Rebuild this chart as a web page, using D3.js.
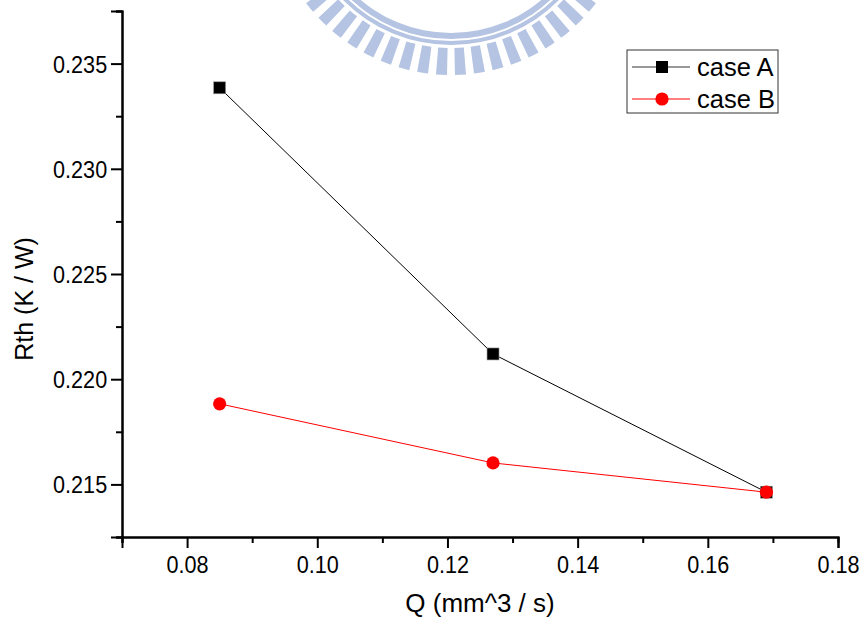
<!DOCTYPE html>
<html>
<head>
<meta charset="utf-8">
<script src="https://cdn.jsdelivr.net/npm/d3@7"></script>
<style>
  html, body { margin: 0; padding: 0; background: #fff; }
  svg { display: block; font-family: "Liberation Sans", Arial, sans-serif; }
</style>
</head>
<body>
<script>
// Flow rate Q (mm^3/s) and thermal resistance Rth (K/W)
const flowRates = [0.085, 0.127, 0.169];
const rthCaseA = [0.23385, 0.2212, 0.21463];
const rthCaseB = [0.21883, 0.21602, 0.21463];
const seriesNames = ["case A", "case B"];

const xMajorTicks = [0.08, 0.10, 0.12, 0.14, 0.16, 0.18];
const xMinorTicks = [0.07, 0.09, 0.11, 0.13, 0.15, 0.17];
const yMajorTicks = [0.215, 0.220, 0.225, 0.230, 0.235];
const yMinorTicks = [0.2125, 0.2175, 0.2225, 0.2275, 0.2325, 0.2375];

const W = 863, H = 622;
const svg = d3.select("body").append("svg").attr("width", W).attr("height", H);

// Background emblem: ring with radial teeth, in pale blue
const emblem = svg.append("g").attr("transform", "translate(451,-107)");
const pale = "rgb(180,196,226)";
emblem.append("path")
  .attr("d", d3.arc()({ innerRadius: 140, outerRadius: 146, startAngle: 0, endAngle: 2 * Math.PI }))
  .attr("fill", pale);
emblem.append("path")
  .attr("d", d3.arc()({ innerRadius: 148, outerRadius: 152, startAngle: 0, endAngle: 2 * Math.PI }))
  .attr("fill", pale);
const toothCount = 60;
const toothArc = d3.arc().innerRadius(155).outerRadius(182);
emblem.selectAll("path.tooth")
  .data(d3.range(toothCount))
  .join("path")
  .attr("class", "tooth")
  .attr("d", i => {
    const a = (i + 0.5) * 2 * Math.PI / toothCount;
    const half = Math.PI / toothCount * 0.58;
    return toothArc({ startAngle: a - half, endAngle: a + half });
  })
  .attr("fill", pale);

// Scales
const x = d3.scaleLinear().domain([0.07, 0.18]).range([122, 838]);
const y = d3.scaleLinear().domain([0.2125, 0.2375]).range([537, 11]);

const axisStroke = 2;
const tickFont = 24;

// X axis
const gx = svg.append("g").attr("transform", `translate(0,${y(0.2125)})`);
gx.call(d3.axisBottom(x).tickValues(xMajorTicks).tickSize(11).tickFormat(d3.format(".2f")));
const gxMinor = svg.append("g").attr("transform", `translate(0,${y(0.2125)})`);
gxMinor.call(d3.axisBottom(x).tickValues(xMinorTicks).tickSize(6).tickFormat(""));

// Y axis
const gy = svg.append("g").attr("transform", `translate(${x(0.07)},0)`);
gy.call(d3.axisLeft(y).tickValues(yMajorTicks).tickSize(11).tickFormat(d3.format(".3f")));
const gyMinor = svg.append("g").attr("transform", `translate(${x(0.07)},0)`);
gyMinor.call(d3.axisLeft(y).tickValues(yMinorTicks).tickSize(6).tickFormat(""));

[gx, gxMinor, gy, gyMinor].forEach(g => {
  g.select(".domain").attr("stroke", "#000").attr("stroke-width", axisStroke);
  g.selectAll(".tick line").attr("stroke", "#000").attr("stroke-width", axisStroke);
});
// Tick labels in a slightly narrowed face
gx.selectAll(".tick text")
  .attr("font-size", tickFont).attr("fill", "#000")
  .attr("font-family", "Liberation Sans, Arial, sans-serif")
  .attr("y", 28).attr("dy", "0.35em")
  .attr("transform", "scale(0.9,1)");
gy.selectAll(".tick text")
  .attr("font-size", tickFont).attr("fill", "#000")
  .attr("font-family", "Liberation Sans, Arial, sans-serif")
  .attr("x", -16.5).attr("dy", "0.35em")
  .attr("transform", "scale(0.9,1)");

// Axis titles
svg.append("text")
  .attr("x", 480).attr("y", 612)
  .attr("text-anchor", "middle")
  .attr("font-size", 26)
  .text("Q (mm^3 / s)");
svg.append("text")
  .attr("transform", "translate(33,299) rotate(-90)")
  .attr("text-anchor", "middle")
  .attr("font-size", 25)
  .text("Rth (K / W)");

// Series
const series = [
  { name: seriesNames[0], values: rthCaseA, color: "#000", marker: "square" },
  { name: seriesNames[1], values: rthCaseB, color: "#ff0000", marker: "circle" }
];
const line = d3.line().x(d => x(d[0])).y(d => y(d[1]));

series.forEach(s => {
  const pts = flowRates.map((q, i) => [q, s.values[i]]);
  svg.append("path")
    .attr("d", line(pts))
    .attr("fill", "none")
    .attr("stroke", s.color)
    .attr("stroke-width", 1);
  if (s.marker === "square") {
    svg.selectAll(null).data(pts).join("rect")
      .attr("x", d => x(d[0]) - 6).attr("y", d => y(d[1]) - 6)
      .attr("width", 12).attr("height", 12)
      .attr("fill", "#000").attr("stroke", "#999").attr("stroke-width", 0.6);
  } else {
    svg.selectAll(null).data(pts).join("circle")
      .attr("cx", d => x(d[0])).attr("cy", d => y(d[1]))
      .attr("r", 6.6)
      .attr("fill", "#ff0000");
  }
});

// Legend
const legend = svg.append("g").attr("transform", "translate(627,50)");
legend.append("rect")
  .attr("x", 0).attr("y", 0).attr("width", 151).attr("height", 63)
  .attr("fill", "#fff").attr("stroke", "#333").attr("stroke-width", 1);
series.forEach((s, i) => {
  const cy = 17 + i * 32;
  legend.append("line")
    .attr("x1", 5).attr("x2", 63).attr("y1", cy).attr("y2", cy)
    .attr("stroke", s.color === "#000" ? "#333" : s.color).attr("stroke-width", 1);
  if (s.marker === "square") {
    legend.append("rect").attr("x", 29).attr("y", cy - 6).attr("width", 12).attr("height", 12).attr("fill", "#000");
  } else {
    legend.append("circle").attr("cx", 35).attr("cy", cy).attr("r", 6.6).attr("fill", "#ff0000");
  }
  legend.append("text")
    .attr("x", 70).attr("y", cy).attr("dy", "0.36em")
    .attr("font-size", 25.5)
    .text(s.name);
});
</script>
</body>
</html>
